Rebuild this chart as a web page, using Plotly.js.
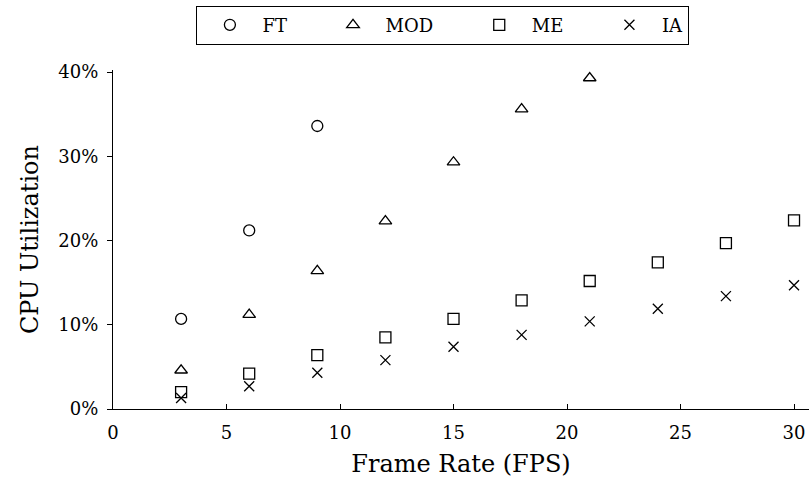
<!DOCTYPE html>
<html><head><meta charset="utf-8">
<script src="https://cdn.plot.ly/plotly-3.0.1.min.js"></script>
<style>body{margin:0}#c{width:809px;height:484px}</style>
</head><body><div id="c"></div>
<script>
const xFT = [3, 6, 9];
const yFT = [0.107, 0.212, 0.336];
const xMOD = [3, 6, 9, 12, 15, 18, 21];
const yMOD = [0.046, 0.112, 0.164, 0.223, 0.293, 0.356, 0.393];
const xME = [3, 6, 9, 12, 15, 18, 21, 24, 27, 30];
const yME = [0.020, 0.042, 0.064, 0.085, 0.107, 0.129, 0.152, 0.174, 0.197, 0.224];
const xIA = [3, 6, 9, 12, 15, 18, 21, 24, 27, 30];
const yIA = [0.013, 0.027, 0.043, 0.058, 0.074, 0.088, 0.104, 0.119, 0.134, 0.147];
const xTicks = [0, 5, 10, 15, 20, 25, 30];
const yTicks = [0, 0.1, 0.2, 0.3, 0.4];
const seriesNames = ['FT', 'MOD', 'ME', 'IA'];

const font = 'DejaVu Serif';
const pad = '\u00a0\u00a0\u00a0\u00a0\u00a0';
function tr(name, x, y, sym, size, last) {
  return {type:'scatter', mode:'markers', name:last ? name : name + pad, x:x, y:y,
    marker:{symbol:sym, size:size, color:'black', line:{color:'black', width:1.3}}};
}
const data = [
  tr(seriesNames[0], xFT, yFT, 'circle-open', 11),
  tr(seriesNames[1], xMOD, yMOD, 'triangle-up-open', 11),
  tr(seriesNames[2], xME, yME, 'square-open', 11),
  tr(seriesNames[3], xIA, yIA, 'x-thin-open', 10, true)
];
const layout = {
  width:809, height:484,
  margin:{l:113, r:0, t:70, b:75},
  paper_bgcolor:'white', plot_bgcolor:'white',
  font:{family:font, color:'black', size:18},
  showlegend:true,
  legend:{orientation:'h', x:0.474, xanchor:'center', y:1.19, yanchor:'top',
    bordercolor:'black', borderwidth:1, font:{family:font, size:18},
    itemwidth:55, tracegroupgap:0},
  xaxis:{range:[0, 30.66], tickvals:xTicks,
    showgrid:false, zeroline:false, showline:true, linecolor:'black', linewidth:1.3,
    ticks:'inside', ticklen:5, tickcolor:'black', ticklabelstandoff:7,
    title:{text:'Frame Rate (FPS)', font:{family:font, size:24}, standoff:13}},
  yaxis:{range:[0, 0.4025], tickvals:yTicks, tickformat:'.0%',
    showgrid:false, zeroline:false, showline:true, linecolor:'black', linewidth:1.3,
    ticks:'outside', ticklen:5, tickcolor:'black', ticklabelstandoff:5,
    title:{text:'CPU Utilization', font:{family:font, size:24}, standoff:12}}
};
Plotly.newPlot('c', data, layout, {displayModeBar:false});
</script></body></html>
